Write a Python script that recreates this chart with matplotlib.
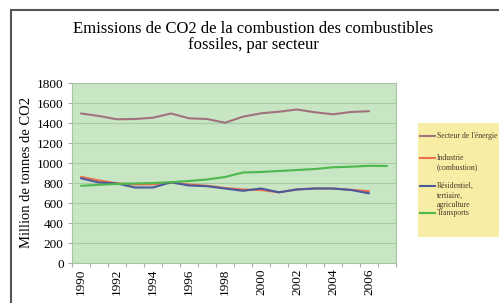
import matplotlib
matplotlib.use("Agg")
import matplotlib.pyplot as plt
from matplotlib.lines import Line2D
from matplotlib.patches import Rectangle
from matplotlib.ticker import MultipleLocator, FixedLocator

plt.rcParams['font.family'] = ['Liberation Serif', 'DejaVu Serif']

# données (millions de tonnes de CO2)
years = list(range(1990, 2008))
energie = [1495, 1470, 1437, 1440, 1453, 1495, 1447, 1440, 1403, 1463,
           1497, 1513, 1535, 1507, 1487, 1510, 1518]
industrie = [862, 825, 797, 785, 787, 805, 785, 772, 750, 735,
             730, 707, 737, 745, 745, 732, 718]
residentiel = [847, 805, 795, 755, 755, 807, 775, 768, 745, 722,
               745, 707, 735, 745, 745, 730, 697]
transports = [772, 782, 790, 795, 800, 808, 820, 835, 860, 905,
              910, 920, 930, 940, 957, 963, 972, 970]

labels = ["Secteur de l'énergie", "Industrie\n(combustion)",
          "Résidentiel,\ntertiaire,\nagriculture", "Transports"]
colors = ['#A0727E', '#E8704A', '#4C5A9C', '#4DB84D']

W, H = 499, 303
fig = plt.figure(figsize=(W / 100, H / 100), dpi=100)
fig.patch.set_facecolor('white')

ax = fig.add_axes([72 / W, 1 - 263 / H, 324 / W, 180 / H])
ax.set_facecolor('#C8E5C4')

series = [energie, industrie, residentiel, transports]
for vals, col in zip(series, colors):
    ax.plot(range(len(vals)), vals, color=col, lw=1.5, solid_capstyle='round')

ax.set_xlim(-0.5, len(years) - 0.5)
ax.set_ylim(0, 1800)
ax.yaxis.set_major_locator(MultipleLocator(200))
ax.grid(axis='y', color='#A8CBA5', lw=0.8)
ax.set_axisbelow(True)

ax.set_xticks(range(0, len(years), 2))
ax.set_xticklabels([str(y) for y in years[::2]], rotation=90, fontsize=9.5)
ax.xaxis.set_minor_locator(FixedLocator([i - 0.5 for i in range(len(years) + 1)]))
ax.tick_params(axis='x', which='major', length=0, pad=4)
ax.tick_params(axis='x', which='minor', length=3, color='#9DB89A', width=0.8)
ax.tick_params(axis='y', length=3, color='#9DB89A', width=0.8, labelsize=9.5, pad=3)

for s in ax.spines.values():
    s.set_color('#A8C4A5')
    s.set_linewidth(0.8)

ax.set_ylabel('Million de tonnes de CO2', fontsize=10.5, labelpad=3)

fig.text(253 / W, 1 - 37 / H, 'Emissions de CO2 de la combustion des combustibles\nfossiles, par secteur',
         ha='center', va='center', fontsize=12, linespacing=1.0)

# légende dessinée à la main
fig.patches.append(Rectangle((418 / W, 1 - 237 / H), 90 / W, 114 / H,
                             transform=fig.transFigure, facecolor='#F7EDA4',
                             edgecolor='none', zorder=0))
ys = [136, 158, 186, 213]
for lab, col, yy in zip(labels, colors, ys):
    fig.add_artist(Line2D([420 / W, 435 / W], [1 - yy / H, 1 - yy / H],
                          transform=fig.transFigure, color=col, lw=1.5))
    fig.text(437 / W, 1 - (yy - 4) / H, lab, ha='left', va='top', fontsize=5.6,
             color='#4a3a2a', linespacing=1.25)

# cadre extérieur
fig.add_artist(Line2D([11 / W, 11 / W], [0, 1 - 10 / H], transform=fig.transFigure,
                      color='#555555', lw=1.5))
fig.add_artist(Line2D([11 / W, 1], [1 - 10 / H, 1 - 10 / H], transform=fig.transFigure,
                      color='#555555', lw=1.5))

fig.savefig('out.png', dpi=100)
